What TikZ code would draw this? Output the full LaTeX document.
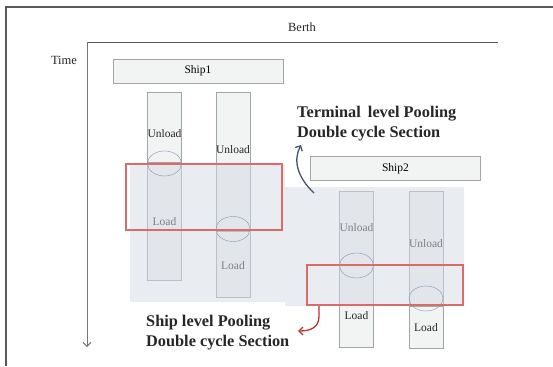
\documentclass[tikz,border=0pt]{standalone}
\usepackage{fontspec}
\setmainfont{Liberation Serif}
\usetikzlibrary{arrows.meta, positioning, calc, shapes.geometric}
\definecolor{framegray}{HTML}{595959}
\definecolor{axisgray}{HTML}{767676}
\definecolor{boxfill}{HTML}{F2F3F3}
\definecolor{boxline}{HTML}{A3A6A9}
\definecolor{shadeblue}{HTML}{D3D9E3}
\definecolor{ringblue}{HTML}{8496B0}
\definecolor{poolred}{HTML}{D96B6B}
\definecolor{arrowred}{HTML}{C62D2D}
\definecolor{arrowblue}{HTML}{44546A}
\definecolor{txt}{HTML}{262626}

\begin{document}
\begin{tikzpicture}[x=1pt, y=-1pt,
  shipbox/.style={draw=boxline, fill=boxfill, minimum width=170pt,
    minimum height=24pt, inner sep=0pt, font=\fontsize{11.5}{13}\selectfont},
  bar/.style={draw=boxline, fill=boxfill, minimum width=34pt, inner sep=0pt},
  op/.style={font=\fontsize{11.5}{13}\selectfont, inner sep=0pt, txt},
  ring/.style={draw=ringblue, ellipse, minimum width=34pt,
    minimum height=25pt, inner sep=0pt},
  pool/.style={draw=poolred, line width=1.7pt, inner sep=0pt},
  lbl/.style={font=\bfseries\fontsize{16.3}{20}\selectfont, align=left,
    txt, inner sep=0pt, right},
  >={Straight Barb[length=4pt, width=8pt]}
]
  \useasboundingbox (0,0) rectangle (553,366);

  % Frame
  \draw[framegray, line width=1.2pt] (6,366) -- (6,7) -- (553,7);

  % Axes
  \coordinate (origin) at (87,42);
  \coordinate (berthend) at (498,42);
  \coordinate (timeend) at (87,347);
  \draw[framegray, line width=0.9pt] (origin) -- (berthend);
  \draw[->, axisgray, line width=0.9pt] (origin) -- (timeend);
  \node[font=\fontsize{12.5}{14}\selectfont, txt] (berth) at (302,27) {Berth};
  \node[font=\fontsize{12.5}{14}\selectfont, txt] (time) at (64,60) {Time};

  % Ship boxes
  \node[shipbox] (ship1) at (198,71) {Ship1};
  \node[shipbox] (ship2) at (395.5,168.5) {Ship2};

  % Bars
  \node[bar, minimum height=188pt] (b1) at (164.5,186) {};
  \node[bar, minimum height=205pt] (b2) at (233,194.5) {};
  \node[bar, minimum height=156pt] (b3) at (356.5,269) {};
  \node[bar, minimum height=157pt] (b4) at (426,269.5) {};

  % Unload / Load switch points
  \coordinate (s1) at (164.5,162.5);
  \coordinate (s2) at (233,231);
  \coordinate (s3) at (356.5,264);
  \coordinate (s4) at (426,306);
  \foreach \i in {1,...,4} {
    \draw[boxline] (b\i.west |- s\i) -- (b\i.east |- s\i);
  }

  \node[op] (u1) at (164.5,134) {Unload};
  \node[op] (l1) at (164.5,222) {Load};
  \node[op] (u2) at (233,150) {Unload};
  \node[op] (l2) at (233,266) {Load};
  \node[op] (u3) at (356.5,228) {Unload};
  \node[op] (l3) at (356.5,316) {Load};
  \node[op] (u4) at (426,244) {Unload};
  \node[op] (l4) at (426,328) {Load};

  % Pooling area
  \fill[shadeblue, opacity=0.5] (130,164) -- (285,164) -- (285,187)
    -- (464,187) -- (464,306) -- (285,306) -- (285,302) -- (130,302) -- cycle;

  % Rings
  \node[ring] (r1) at (164.5,163.5) {};
  \node[ring] (r2) at (233,229) {};
  \node[ring] (r3) at (356.5,265.5) {};
  \node[ring] (r4) at (426,298.5) {};

  % Pooling sections
  \node[pool, minimum width=156pt, minimum height=66pt] (pool1) at (204,197) {};
  \node[pool, minimum width=156pt, minimum height=40pt] (pool2) at (385,285) {};

  % Labels
  \node[lbl] (tlbl) at (297,124)
    {Terminal\hspace{3pt} level Pooling\\Double cycle Section};
  \node[lbl] (slbl) at (146,333)
    {Ship level Pooling\\Double cycle Section};

  % Arrows
  \coordinate (tfrom) at (314,193);
  \coordinate (tto) at (301,145);
  \draw[->, arrowblue, line width=1.3pt] (tfrom)
    .. controls (297,177) and (293,160) .. (tto);
  \coordinate (sfrom) at (319,306);
  \coordinate (sto) at (298,331);
  \draw[->, arrowred, line width=1.3pt] (sfrom) -- (319,316)
    .. controls (319,328) and (310,331) .. (sto);
\end{tikzpicture}
\end{document}
